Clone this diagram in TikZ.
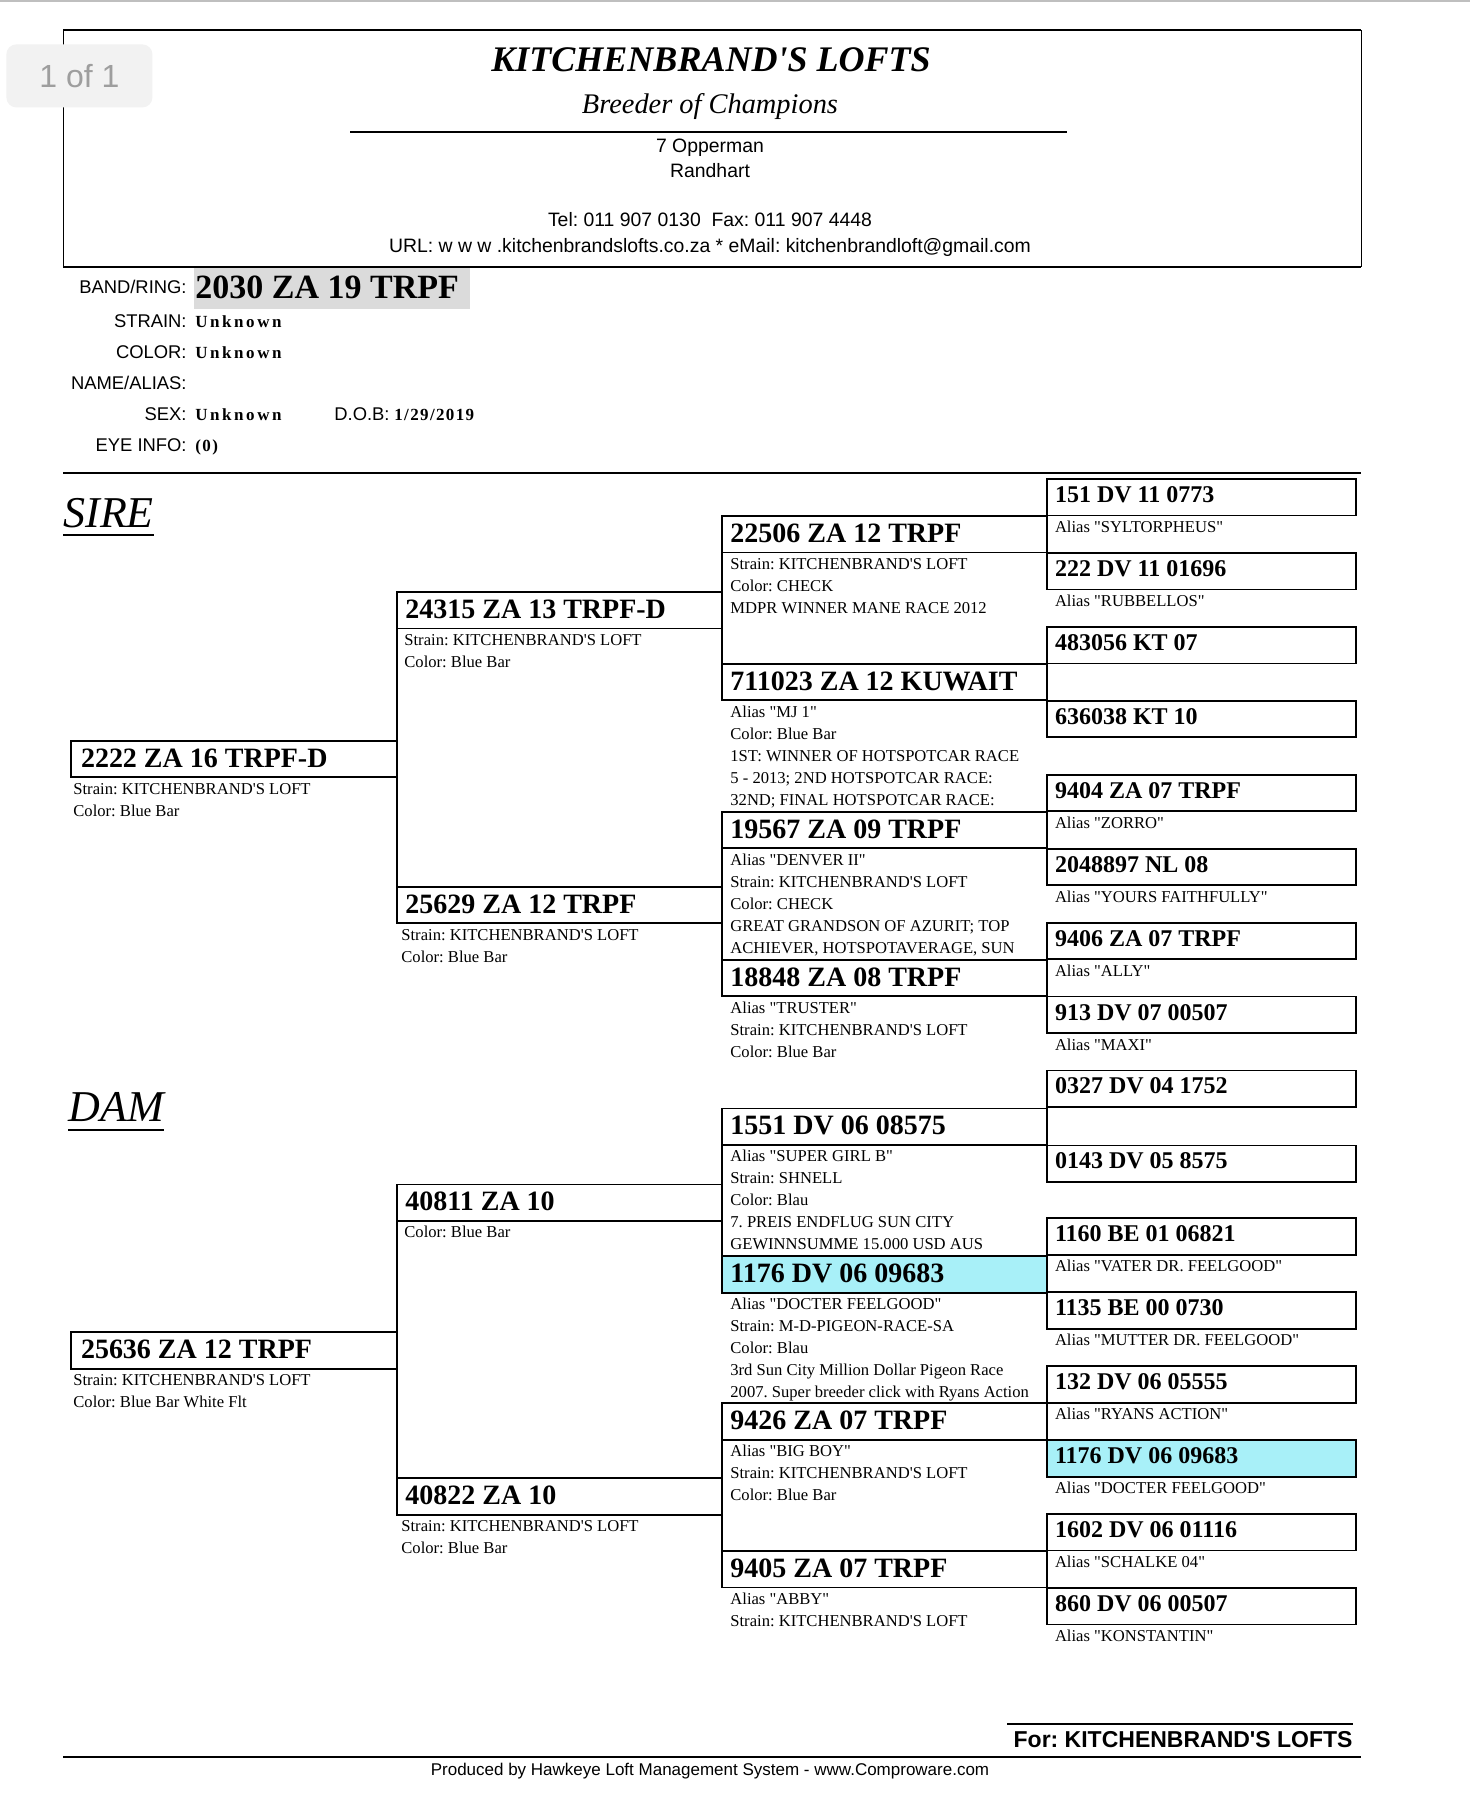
\documentclass[tikz,border=0pt]{standalone}
\usepackage{fontspec}
\setmainfont{Liberation Serif}
\setsansfont{Liberation Sans}
\frenchspacing
\definecolor{cyanbox}{RGB}{168,240,248}
\newcommand\fs[2]{\fontsize{#1pt}{#2pt}\selectfont}
\newcommand\apos{\textquotesingle}
\newcommand\qq[1]{\textquotedbl#1\textquotedbl}
\tikzset{
  pbox/.style={draw, line width=0.9pt, inner sep=0pt, outer sep=0pt, anchor=north west, minimum height=18.25pt},
  gone/.style={pbox, minimum width=163pt},
  gmid/.style={pbox, minimum width=162.5pt},
  gfour/.style={pbox, minimum width=154.3pt},
  lbl/.style={anchor=base west, inner sep=0pt, yshift=-13.25pt, font=\bfseries\fs{14}{16}},
  lblsm/.style={anchor=base west, inner sep=0pt, yshift=-11.75pt, font=\bfseries\fs{12}{14}},
  sub/.style={anchor=base west, inner sep=0pt, yshift=-8.5pt, font=\frenchspacing\fs{8.3}{11}},
  conn/.style={line width=0.9pt},
  hdr/.style={anchor=base, inner sep=0pt, font=\sffamily\fs{9.7}{11}},
  ilbl/.style={anchor=base east, inner sep=0pt, font=\sffamily\fs{9.2}{10}},
  ival/.style={anchor=base west, inner sep=0pt, font=\bfseries\fs{8.5}{10}\addfontfeature{LetterSpace=15}},
  ivald/.style={anchor=base west, inner sep=0pt, font=\bfseries\fs{8.5}{10}\addfontfeature{LetterSpace=8}},
}
\newcommand\pedbox[8]{%
  \node[#2, fill=#5] (#1) at (#3,#4) {};
  \node[#6, xshift=#7] (#1-id) at (#1.north west) {#8};}
\newcommand\pedinfo[3]{%
  \node[sub, xshift=#2] (#1-info) at (#1.south west) {\begin{tabular}[t]{@{}l@{}}#3\end{tabular}};}
\begin{document}
\frenchspacing
\begin{tikzpicture}[x=0.5pt,y=-0.5pt]
\useasboundingbox (0,0) rectangle (1470,1796);
\fill[white] (0,0) rectangle (1470,1796);
% ---------- header
\draw[black!25, line width=1pt] (0,1) -- (1470,1);
\draw[line width=0.5pt] (63,30) -- (63,267) (1361,30) -- (1361,267);
\draw[line width=1.1pt] (63,30) -- (1361,30) (63,267) -- (1361,267);
\node[anchor=base, inner sep=0pt, font=\bfseries\itshape\fs{18}{20}] (title) at (711,71) {KITCHENBRAND\apos S LOFTS};
\node[anchor=base, inner sep=0pt, font=\itshape\fs{14.2}{16}] (motto) at (710,113) {Breeder of Champions};
\draw[line width=1.1pt] (350,132) -- (1067,132);
\node[hdr] (addr1) at (710,152) {7 Opperman};
\node[hdr] (addr2) at (710,177) {Randhart};
\node[hdr] (tel) at (710,226) {Tel: 011 907 0130\ \ Fax: 011 907 4448};
\node[hdr] (url) at (710,252) {URL: w w w .kitchenbrandslofts.co.za * eMail: kitchenbrandloft@gmail.com};
\node[anchor=north west, fill=black!5, rounded corners=5pt, minimum width=73pt, minimum height=31.5pt, inner sep=0pt, text=black!38, font=\sffamily\fs{16}{16}] (badge) at (6,44) {1 of 1};
% ---------- bird info
\fill[black!14] (194,268) rectangle (470,309);
\node[ilbl] (l-band) at (187,293) {BAND/RING:};
\node[anchor=base west, inner sep=0pt, font=\bfseries\fs{17}{19}] (v-band) at (195,298) {2030 ZA 19 TRPF};
\node[ilbl] (l-strain) at (187,327) {STRAIN:};
\node[ival] (v-strain) at (195,327) {Unknown};
\node[ilbl] (l-color) at (187,358) {COLOR:};
\node[ival] (v-color) at (195,358) {Unknown};
\node[ilbl] (l-name) at (187,389) {NAME/ALIAS:};
\node[ilbl] (l-sex) at (187,420) {SEX:};
\node[ival] (v-sex) at (195,420) {Unknown};
\node[ilbl] (l-dob) at (390,420) {D.O.B:};
\node[ivald] (v-dob) at (394,420) {1/29/2019};
\node[ilbl] (l-eye) at (187,451) {EYE INFO:};
\node[ivald] (v-eye) at (195,451) {(0)};
\draw[line width=1.2pt] (63,473) -- (1361,473);
% ---------- SIRE / DAM headings
\node[anchor=base west, inner sep=0pt, font=\itshape\fs{22}{24}] (sire) at (63,527) {SIRE};
\draw[line width=1.3pt] ([yshift=-4pt]sire.base west) -- ([yshift=-4pt]sire.base east);
\node[anchor=base west, inner sep=0pt, font=\itshape\fs{22}{24}] (dam) at (68,1121) {DAM};
\draw[line width=1.3pt] ([yshift=-4.5pt]dam.base west) -- ([yshift=-4.5pt]dam.base east);
% ---------- generation 1
\pedbox{s}{gone}{71}{740.8}{white}{lbl}{4.8pt}{2222 ZA 16 TRPF-D}
\pedinfo{s}{1pt}{Strain: KITCHENBRAND\apos S LOFT\\Color: Blue Bar}
\pedbox{d}{gone}{71}{1332.3}{white}{lbl}{4.8pt}{25636 ZA 12 TRPF}
\pedinfo{d}{1pt}{Strain: KITCHENBRAND\apos S LOFT\\Color: Blue Bar White Flt}
% ---------- generation 2
\pedbox{ss}{gmid}{397}{591.9}{white}{lbl}{4pt}{24315 ZA 13 TRPF-D}
\pedinfo{ss}{3.5pt}{Strain: KITCHENBRAND\apos S LOFT\\Color: Blue Bar}
\pedbox{sd}{gmid}{397}{886.6}{white}{lbl}{4pt}{25629 ZA 12 TRPF}
\pedinfo{sd}{2pt}{Strain: KITCHENBRAND\apos S LOFT\\Color: Blue Bar}
\pedbox{ds}{gmid}{397}{1184.4}{white}{lbl}{4pt}{40811 ZA 10}
\pedinfo{ds}{3.5pt}{Color: Blue Bar}
\pedbox{dd}{gmid}{397}{1478.1}{white}{lbl}{4pt}{40822 ZA 10}
\pedinfo{dd}{2pt}{Strain: KITCHENBRAND\apos S LOFT\\Color: Blue Bar}
% ---------- generation 3
\pedbox{sss}{gmid}{722}{516.0}{white}{lbl}{4pt}{22506 ZA 12 TRPF}
\pedinfo{sss}{4pt}{Strain: KITCHENBRAND\apos S LOFT\\Color: CHECK\\MDPR WINNER MANE RACE 2012}
\pedbox{ssd}{gmid}{722}{663.8}{white}{lbl}{4pt}{711023 ZA 12 KUWAIT}
\pedinfo{ssd}{4pt}{Alias \qq{MJ 1}\\Color: Blue Bar\\1ST: WINNER OF HOTSPOTCAR RACE\\5 - 2013; 2ND HOTSPOTCAR RACE:\\32ND; FINAL HOTSPOTCAR RACE:}
\pedbox{sds}{gmid}{722}{811.7}{white}{lbl}{4pt}{19567 ZA 09 TRPF}
\pedinfo{sds}{4pt}{Alias \qq{DENVER II}\\Strain: KITCHENBRAND\apos S LOFT\\Color: CHECK\\GREAT GRANDSON OF AZURIT; TOP\\ACHIEVER, HOTSPOTAVERAGE, SUN}
\pedbox{sdd}{gmid}{722}{959.6}{white}{lbl}{4pt}{18848 ZA 08 TRPF}
\pedinfo{sdd}{4pt}{Alias \qq{TRUSTER}\\Strain: KITCHENBRAND\apos S LOFT\\Color: Blue Bar}
\pedbox{dss}{gmid}{722}{1108.4}{white}{lbl}{4pt}{1551 DV 06 08575}
\pedinfo{dss}{4pt}{Alias \qq{SUPER GIRL B}\\Strain: SHNELL\\Color: Blau\\7. PREIS ENDFLUG SUN CITY\\GEWINNSUMME 15.000 USD AUS}
\pedbox{dsd}{gmid}{722}{1256.3}{cyanbox}{lbl}{4pt}{1176 DV 06 09683}
\pedinfo{dsd}{4pt}{Alias \qq{DOCTER FEELGOOD}\\Strain: M-D-PIGEON-RACE-SA\\Color: Blau\\3rd Sun City Million Dollar Pigeon Race\\2007. Super breeder click with Ryans Action}
\pedbox{dds}{gmid}{722}{1403.1}{white}{lbl}{4pt}{9426 ZA 07 TRPF}
\pedinfo{dds}{4pt}{Alias \qq{BIG BOY}\\Strain: KITCHENBRAND\apos S LOFT\\Color: Blue Bar}
\pedbox{ddd}{gmid}{722}{1551.0}{white}{lbl}{4pt}{9405 ZA 07 TRPF}
\pedinfo{ddd}{4pt}{Alias \qq{ABBY}\\Strain: KITCHENBRAND\apos S LOFT}
% ---------- generation 4
\pedbox{q0}{gfour}{1047}{479.0}{white}{lblsm}{3.8pt}{151 DV 11 0773}
\pedinfo{q0}{3.8pt}{Alias \qq{SYLTORPHEUS}}
\pedbox{q1}{gfour}{1047}{552.9}{white}{lblsm}{3.8pt}{222 DV 11 01696}
\pedinfo{q1}{3.8pt}{Alias \qq{RUBBELLOS}}
\pedbox{q2}{gfour}{1047}{626.9}{white}{lblsm}{3.8pt}{483056 KT 07}
\pedbox{q3}{gfour}{1047}{700.8}{white}{lblsm}{3.8pt}{636038 KT 10}
\pedbox{q4}{gfour}{1047}{774.7}{white}{lblsm}{3.8pt}{9404 ZA 07 TRPF}
\pedinfo{q4}{3.8pt}{Alias \qq{ZORRO}}
\pedbox{q5}{gfour}{1047}{848.7}{white}{lblsm}{3.8pt}{2048897 NL 08}
\pedinfo{q5}{3.8pt}{Alias \qq{YOURS FAITHFULLY}}
\pedbox{q6}{gfour}{1047}{922.6}{white}{lblsm}{3.8pt}{9406 ZA 07 TRPF}
\pedinfo{q6}{3.8pt}{Alias \qq{ALLY}}
\pedbox{q7}{gfour}{1047}{996.5}{white}{lblsm}{3.8pt}{913 DV 07 00507}
\pedinfo{q7}{3.8pt}{Alias \qq{MAXI}}
\pedbox{q8}{gfour}{1047}{1070.4}{white}{lblsm}{3.8pt}{0327 DV 04 1752}
\pedbox{q9}{gfour}{1047}{1145.4}{white}{lblsm}{3.8pt}{0143 DV 05 8575}
\pedbox{q10}{gfour}{1047}{1218.3}{white}{lblsm}{3.8pt}{1160 BE 01 06821}
\pedinfo{q10}{3.8pt}{Alias \qq{VATER DR. FEELGOOD}}
\pedbox{q11}{gfour}{1047}{1292.2}{white}{lblsm}{3.8pt}{1135 BE 00 0730}
\pedinfo{q11}{3.8pt}{Alias \qq{MUTTER DR. FEELGOOD}}
\pedbox{q12}{gfour}{1047}{1366.2}{white}{lblsm}{3.8pt}{132 DV 06 05555}
\pedinfo{q12}{3.8pt}{Alias \qq{RYANS ACTION}}
\pedbox{q13}{gfour}{1047}{1440.1}{cyanbox}{lblsm}{3.8pt}{1176 DV 06 09683}
\pedinfo{q13}{3.8pt}{Alias \qq{DOCTER FEELGOOD}}
\pedbox{q14}{gfour}{1047}{1514.0}{white}{lblsm}{3.8pt}{1602 DV 06 01116}
\pedinfo{q14}{3.8pt}{Alias \qq{SCHALKE 04}}
\pedbox{q15}{gfour}{1047}{1588.0}{white}{lblsm}{3.8pt}{860 DV 06 00507}
\pedinfo{q15}{3.8pt}{Alias \qq{KONSTANTIN}}
% ---------- connectors
\draw[conn] (ss.north west) -- (sd.south west);
\draw[conn] (ds.north west) -- (dd.south west);
\draw[conn] (sss.north west) -- (ssd.south west);
\draw[conn] (sds.north west) -- (sdd.south west);
\draw[conn] (dss.north west) -- (dsd.south west);
\draw[conn] (dds.north west) -- (ddd.south west);
\draw[conn] (q0.north west) -- (q1.south west);
\draw[conn] (q2.north west) -- (q3.south west);
\draw[conn] (q4.north west) -- (q5.south west);
\draw[conn] (q6.north west) -- (q7.south west);
\draw[conn] (q8.north west) -- (q9.south west);
\draw[conn] (q10.north west) -- (q11.south west);
\draw[conn] (q12.north west) -- (q13.south west);
\draw[conn] (q14.north west) -- (q15.south west);
% ---------- footer
\draw[line width=1pt] (1007,1724) -- (1353,1724);
\node[anchor=base east, inner sep=0pt, font=\sffamily\bfseries\fs{11.5}{13}] (for) at (1353,1747) {For: KITCHENBRAND\apos S LOFTS};
\draw[line width=1pt] (63,1757) -- (1361,1757);
\node[anchor=base, inner sep=0pt, font=\sffamily\fs{8.5}{10}] (prod) at (710,1775) {Produced by Hawkeye Loft Management System - www.Comproware.com};
\end{tikzpicture}
\end{document}
